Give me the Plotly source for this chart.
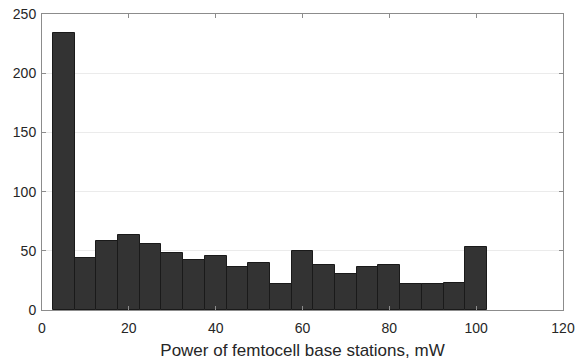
import plotly.graph_objects as go

bin_centers = [5, 10, 15, 20, 25, 30, 35, 40, 45, 50, 55, 60, 65, 70, 75, 80, 85, 90, 95, 100]
counts = [234, 44, 58, 63, 56, 48, 42, 46, 36, 40, 22, 50, 38, 30, 36, 38, 22, 22, 23, 53]
bin_width = 5
x_ticks = [0, 20, 40, 60, 80, 100, 120]
y_ticks = [0, 50, 100, 150, 200, 250]

fig = go.Figure(go.Bar(
    x=bin_centers, y=counts, width=[bin_width] * len(bin_centers),
    marker=dict(color="#333333", line=dict(color="#1a1a1a", width=1)),
))

font = dict(family="Liberation Sans, Arial, sans-serif", size=14, color="#262626")
fig.update_layout(
    width=576, height=360,
    margin=dict(l=42, r=13, t=14, b=50),
    paper_bgcolor="white", plot_bgcolor="white",
    font=font, showlegend=False, bargap=0,
)
fig.update_xaxes(
    range=[0, 120], tickvals=x_ticks, showgrid=False, zeroline=False,
    showline=True, linecolor="#8c8c8c", linewidth=1, mirror="ticks",
    ticks="inside", ticklen=4, tickcolor="#8c8c8c", automargin=False,
    ticklabelstandoff=5,
    title=dict(text="Power of femtocell base stations, mW", standoff=9),
)
fig.update_yaxes(
    range=[0, 250], tickvals=y_ticks, showgrid=True, gridcolor="#ebebeb",
    zeroline=False, showline=True, linecolor="#8c8c8c", linewidth=1, mirror="ticks",
    ticks="inside", ticklen=4, tickcolor="#8c8c8c", automargin=False,
    ticklabelstandoff=2,
)
fig.write_html(
    "out.html",
    config={"displayModeBar": False},
    post_script="document.body.style.margin='0';document.body.style.overflow='hidden';",
)
